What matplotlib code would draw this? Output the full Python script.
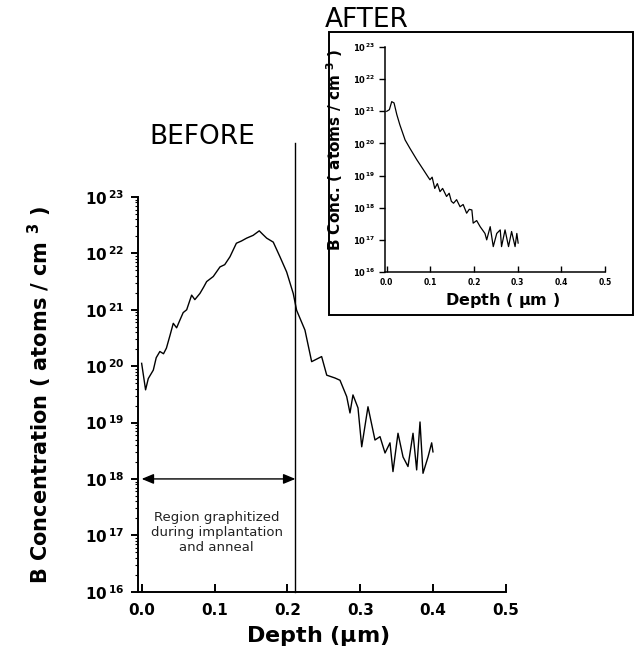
import matplotlib
matplotlib.use("Agg")
import matplotlib.pyplot as plt
import numpy as np
from matplotlib.patches import Rectangle
from matplotlib.ticker import FixedLocator, LogLocator, NullFormatter, FixedFormatter
import matplotlib.transforms as mtransforms

# ---------------- data ----------------
# BEFORE profile: depth (um) and log10 of B concentration (atoms/cm^3)
before_depth = [0.000, 0.0054, 0.0091, 0.016, 0.020, 0.025, 0.030, 0.034, 0.039, 0.0434,
                0.048, 0.0526, 0.057, 0.0618, 0.0686, 0.073, 0.080, 0.085, 0.0892, 0.0983,
                0.1075, 0.114, 0.1212, 0.130, 0.137, 0.144, 0.153, 0.1614, 0.166, 0.1716,
                0.1806, 0.1898, 0.199, 0.208, 0.2127, 0.2241, 0.2333, 0.247, 0.254, 0.2653,
                0.2722, 0.2814, 0.2859, 0.290, 0.2969, 0.302, 0.3106, 0.3202, 0.3271, 0.334,
                0.3408, 0.3449, 0.3518, 0.3587, 0.3655, 0.3724, 0.3774, 0.382, 0.3861, 0.393,
                0.398, 0.3998]
before_log = [20.05, 19.58, 19.78, 19.93, 20.15, 20.26, 20.22, 20.32, 20.55, 20.76,
              20.68, 20.82, 20.95, 21.00, 21.26, 21.18, 21.29, 21.40, 21.50, 21.59,
              21.76, 21.80, 21.94, 22.18, 22.22, 22.27, 22.32, 22.40, 22.34, 22.27,
              22.20, 21.94, 21.67, 21.29, 20.99, 20.64, 20.08, 20.17, 19.84, 19.79,
              19.75, 19.46, 19.17, 19.49, 19.26, 18.57, 19.28, 18.69, 18.75, 18.46,
              18.64, 18.13, 18.81, 18.39, 18.22, 18.81, 18.16, 19.01, 18.10, 18.39,
              18.64, 18.48]

# AFTER profile (inset)
after_depth = [0.000, 0.006, 0.0114, 0.0167, 0.023, 0.030, 0.042, 0.053, 0.069, 0.084,
               0.095, 0.099, 0.104, 0.110, 0.116, 0.122, 0.128, 0.137, 0.143, 0.148,
               0.153, 0.160, 0.168, 0.175, 0.183, 0.189, 0.195, 0.198, 0.206, 0.214,
               0.225, 0.229, 0.237, 0.244, 0.252, 0.260, 0.263, 0.271, 0.279, 0.286,
               0.294, 0.298, 0.301]
after_log = [21.00, 21.05, 21.30, 21.26, 20.90, 20.58, 20.11, 19.85, 19.49, 19.18,
             18.95, 18.87, 18.95, 18.60, 18.75, 18.50, 18.60, 18.35, 18.45, 18.20,
             18.14, 18.25, 18.03, 18.10, 17.83, 17.95, 17.93, 17.52, 17.60, 17.41,
             17.20, 17.00, 17.41, 16.79, 17.20, 17.31, 16.79, 17.31, 16.79, 17.26,
             16.79, 17.20, 16.90]

x_ticks = [0.0, 0.1, 0.2, 0.3, 0.4, 0.5]
x_ticklabels = ["0.0", "0.1", "0.2", "0.3", "0.4", "0.5"]
y_exponents = [16, 17, 18, 19, 20, 21, 22, 23]

graphitized_depth = 0.211
arrow_level = 1e18
region_text = "Region graphitized\nduring implantation\nand anneal"

# ---------------- figure ----------------
W, H = 638, 650
fig = plt.figure(figsize=(W / 100, H / 100), dpi=100)
fig.patch.set_facecolor("white")

def fx(px):
    return px / W

def fy(py):
    return 1 - py / H

BOLD = dict(family="DejaVu Sans", weight="bold")

# main axes
ax = fig.add_axes([fx(138), fy(591.7), (506 - 138) / W, (591.7 - 197) / H])
ax.set_yscale("log")
ax.set_xlim(-0.005, 0.5)
ax.set_ylim(1e16, 1e23)
ax.plot(before_depth, 10.0 ** np.array(before_log), color="black", lw=1.0)

for s in ["top", "right"]:
    ax.spines[s].set_visible(False)
for s in ["left", "bottom"]:
    ax.spines[s].set_linewidth(1.4)

ax.xaxis.set_major_locator(FixedLocator(x_ticks))
ax.xaxis.set_major_formatter(FixedFormatter(x_ticklabels))
ax.tick_params(axis="x", direction="in", length=6, width=1.4, pad=8, labelsize=11)
for lab in ax.get_xticklabels():
    lab.set_fontweight("bold")

ax.yaxis.set_major_locator(FixedLocator([10.0 ** e for e in y_exponents]))
ax.yaxis.set_major_formatter(FixedFormatter([r"$\mathbf{10}^{\,\mathbf{%d}}$" % e for e in y_exponents]))
ax.yaxis.set_minor_locator(LogLocator(base=10, subs=np.arange(2, 10)))
ax.yaxis.set_minor_formatter(NullFormatter())
ax.tick_params(axis="y", which="major", direction="out", length=5, width=1.4, pad=5, labelsize=11)
ax.tick_params(axis="y", which="minor", direction="out", length=2.5, width=0.8)

# vertical boundary line of graphitized region
trans = mtransforms.blended_transform_factory(ax.transData, ax.transAxes)
top_axes = (591.7 - 143) / (591.7 - 197)
ax.plot([graphitized_depth, graphitized_depth], [0, top_axes], transform=trans,
        color="black", lw=1.0, clip_on=False)

# double arrow
ax.annotate("", xy=(0.0, arrow_level), xytext=(graphitized_depth, arrow_level),
            arrowprops=dict(arrowstyle="<|-|>,head_length=0.6,head_width=0.25",
                            color="black", lw=1.0, mutation_scale=12,
                            shrinkA=0, shrinkB=0))
ax.text(0.103, 10 ** 17.05, region_text, ha="center", va="center",
        fontsize=9.5, family="DejaVu Sans", linespacing=1.2, color="#222222")

# labels of main plot
fig.text(fx(40), fy(395), r"B Concentration ( atoms / cm $^{\mathbf{3}}$ )",
         rotation=90, ha="center", va="center", fontsize=15, **BOLD)
fig.text(fx(318), fy(636), r"Depth ($\mathbf{\mu}$m)", ha="center", va="center",
         fontsize=16, **BOLD)
fig.text(fx(202), fy(137), "BEFORE", ha="center", va="center", fontsize=19,
         family="DejaVu Sans")
fig.text(fx(367), fy(20), "AFTER", ha="center", va="center", fontsize=19,
         family="DejaVu Sans")

# inset frame
fig.patches.append(Rectangle((fx(329), fy(315)), (633 - 329) / W, (315 - 32) / H,
                             transform=fig.transFigure, fill=False, ec="black", lw=1.4))

# inset axes
axi = fig.add_axes([fx(385), fy(272), (605 - 385) / W, (272 - 47) / H])
axi.set_yscale("log")
axi.set_xlim(-0.004, 0.5)
axi.set_ylim(1e16, 1e23)
axi.plot(after_depth, 10.0 ** np.array(after_log), color="black", lw=0.9)
for s in ["top", "right"]:
    axi.spines[s].set_visible(False)
for s in ["left", "bottom"]:
    axi.spines[s].set_linewidth(1.1)
axi.xaxis.set_major_locator(FixedLocator(x_ticks))
axi.xaxis.set_major_formatter(FixedFormatter(x_ticklabels))
axi.tick_params(axis="x", direction="in", length=4, width=1.0, pad=4, labelsize=5.5)
for lab in axi.get_xticklabels():
    lab.set_fontweight("bold")
axi.yaxis.set_major_locator(FixedLocator([10.0 ** e for e in y_exponents]))
axi.yaxis.set_major_formatter(FixedFormatter([r"$\mathbf{10}^{\,\mathbf{%d}}$" % e for e in y_exponents]))
axi.yaxis.set_minor_locator(FixedLocator([]))
axi.tick_params(axis="y", which="major", direction="out", length=4, width=1.0, pad=3, labelsize=6)

fig.text(fx(335), fy(150), r"B Conc. ( atoms / cm $^{\mathbf{3}}$ )", rotation=90,
         ha="center", va="center", fontsize=11, **BOLD)
fig.text(fx(502), fy(301), r"Depth ( $\mathbf{\mu}$m )", ha="center", va="center",
         fontsize=11.5, **BOLD)

fig.savefig("out.png", dpi=100, facecolor="white")
